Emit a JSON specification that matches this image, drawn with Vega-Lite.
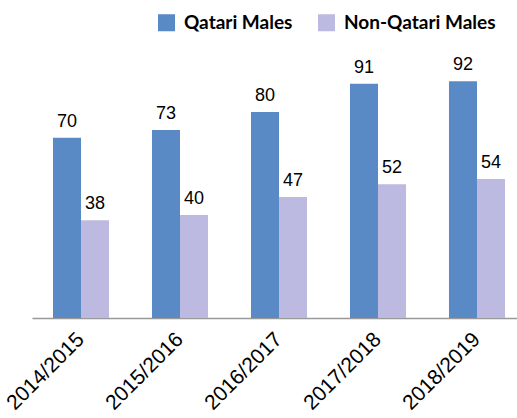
{
  "$schema": "https://vega.github.io/schema/vega-lite/v6.json",
  "autosize": "none",
  "width": 494,
  "height": 278,
  "padding": {"left": 32, "top": 40, "right": 0, "bottom": 100},
  "background": "white",
  "data": {"values": [
    {"year": "2014/2015", "group": "Qatari Males", "value": 70},
    {"year": "2014/2015", "group": "Non-Qatari Males", "value": 38},
    {"year": "2015/2016", "group": "Qatari Males", "value": 73},
    {"year": "2015/2016", "group": "Non-Qatari Males", "value": 40},
    {"year": "2016/2017", "group": "Qatari Males", "value": 80},
    {"year": "2016/2017", "group": "Non-Qatari Males", "value": 47},
    {"year": "2017/2018", "group": "Qatari Males", "value": 91},
    {"year": "2017/2018", "group": "Non-Qatari Males", "value": 52},
    {"year": "2018/2019", "group": "Qatari Males", "value": 92},
    {"year": "2018/2019", "group": "Non-Qatari Males", "value": 54}
  ]},
  "config": {"view": {"stroke": null}},
  "encoding": {
    "x": {"field": "year", "type": "nominal", "sort": null,
      "scale": {"paddingInner": 0.434, "paddingOuter": 0.212},
      "axis": {"title": null, "labelAngle": -45, "labelAlign": "right", "labelBaseline": "middle",
        "labelFont": "Liberation Sans", "labelFontSize": 21, "labelColor": "#000", "ticks": false,
        "labelPadding": 18, "domainColor": "#999999", "domainWidth": 1.5}},
    "xOffset": {"field": "group", "type": "nominal", "sort": ["Qatari Males", "Non-Qatari Males"]},
    "y": {"field": "value", "type": "quantitative", "scale": {"domain": [0, 108]}, "axis": null}
  },
  "layer": [
    {"mark": {"type": "bar"},
     "encoding": {"color": {"field": "group", "type": "nominal", "sort": ["Qatari Males", "Non-Qatari Males"],
       "scale": {"domain": ["Qatari Males", "Non-Qatari Males"], "range": ["#5A8AC6", "#BCBAE0"]},
       "legend": {"title": null, "orient": "none", "legendX": 125, "legendY": -27, "direction": "horizontal",
         "symbolType": "square", "symbolSize": 290, "symbolStrokeWidth": 0, "labelFont": "Lato", "labelFontWeight": "bold",
         "labelFontSize": 19, "labelColor": "#000", "labelOffset": 8, "columnPadding": 24}}}},
    {"mark": {"type": "text", "dy": -16, "font": "Liberation Sans", "fontSize": 18, "color": "#000"},
     "encoding": {"text": {"field": "value", "type": "quantitative"}}}
  ]
}
